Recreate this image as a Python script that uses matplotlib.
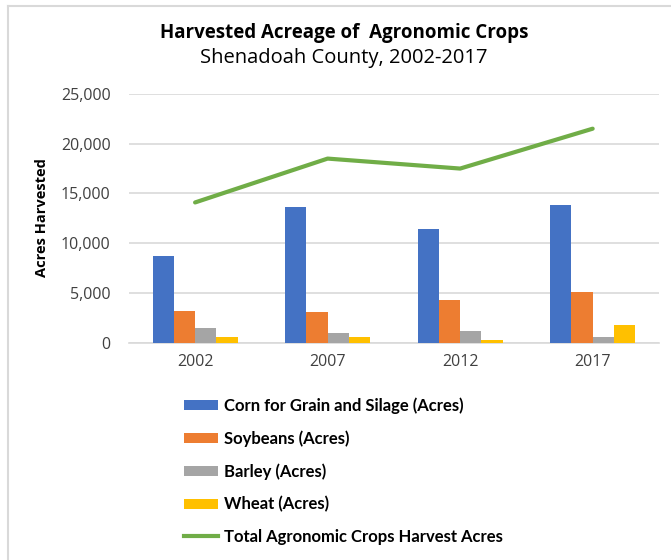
import numpy as np
import matplotlib
matplotlib.use('Agg')
import matplotlib.pyplot as plt
from matplotlib.patches import Patch
from matplotlib.lines import Line2D
from matplotlib.ticker import FuncFormatter

years = ['2002', '2007', '2012', '2017']
corn = [8700, 13650, 11450, 13800]
soybeans = [3200, 3150, 4350, 5150]
barley = [1500, 1000, 1250, 600]
wheat = [600, 600, 330, 1850]
total = [14100, 18500, 17500, 21500]

series_names = ['Corn for Grain and Silage (Acres)', 'Soybeans (Acres)',
                'Barley (Acres)', 'Wheat (Acres)']
total_name = 'Total Agronomic Crops Harvest Acres'
colors = ['#4472C4', '#ED7D31', '#A5A5A5', '#FFC000']
line_color = '#70AD47'


def main():
    plt.rcParams['font.family'] = ['Open Sans', 'DejaVu Sans']

    fig = plt.figure(figsize=(6.71, 5.6), dpi=100)
    ax = fig.add_axes([0.192, 0.3875, 0.79, 0.445])

    x = np.arange(len(years))
    w = 0.16
    for i, (vals, c) in enumerate(zip([corn, soybeans, barley, wheat], colors)):
        ax.bar(x + (i - 1.5) * w, vals, width=w, color=c, zorder=3)
    ax.plot(x, total, color=line_color, linewidth=3, solid_capstyle='round', zorder=4)

    ax.set_xlim(-0.5, 3.5)
    ax.set_ylim(0, 25000)
    ax.set_yticks(np.arange(0, 25001, 5000))
    ax.yaxis.set_major_formatter(FuncFormatter(lambda v, p: '{:,.0f}'.format(v)))
    ax.set_xticks(x)
    ax.set_xticklabels(years)
    ax.tick_params(axis='both', length=0, labelsize=11.5, labelcolor='#404040')
    ax.tick_params(axis='x', pad=8)
    ax.tick_params(axis='y', pad=13)
    ax.grid(axis='y', color='#D9D9D9', linewidth=1.2, zorder=0)
    for s in ['top', 'right', 'left']:
        ax.spines[s].set_visible(False)
    ax.spines['bottom'].set_color('#D9D9D9')
    ax.spines['bottom'].set_linewidth(1.2)

    fig.text(0.063, 0.612, 'Acres Harvested', rotation=90, ha='center', va='center',
             fontsize=10.5, fontweight='bold', color='black')

    fig.text(0.513, 0.941, 'Harvested Acreage of  Agronomic Crops', ha='center', va='center',
             fontsize=13.5, fontweight='bold', color='black')
    fig.text(0.513, 0.896, 'Shenadoah County, 2002-2017', ha='center', va='center',
             fontsize=14.5, color='black')

    handles = [Patch(facecolor=c, edgecolor='none') for c in colors]
    handles.append(Line2D([0], [0], color=line_color, linewidth=3))
    leg = fig.legend(handles, series_names + [total_name], loc='upper left',
                     bbox_to_anchor=(0.265, 0.302), frameon=False,
                     prop={'family': ['Lato', 'DejaVu Sans'], 'weight': 'bold', 'size': 12},
                     handlelength=2.0, handleheight=0.55, handletextpad=0.4,
                     labelspacing=0.98, borderaxespad=0)

    # thin frame along the top and left edges
    fig.add_artist(Line2D([0.012, 1.0], [0.989, 0.989], color='#D9D9D9', linewidth=1.5,
                          transform=fig.transFigure))
    fig.add_artist(Line2D([0.012, 0.012], [0.0, 0.989], color='#D9D9D9', linewidth=1.5,
                          transform=fig.transFigure))

    plt.savefig('out.png', dpi=100, facecolor='white')


if __name__ == '__main__':
    main()
